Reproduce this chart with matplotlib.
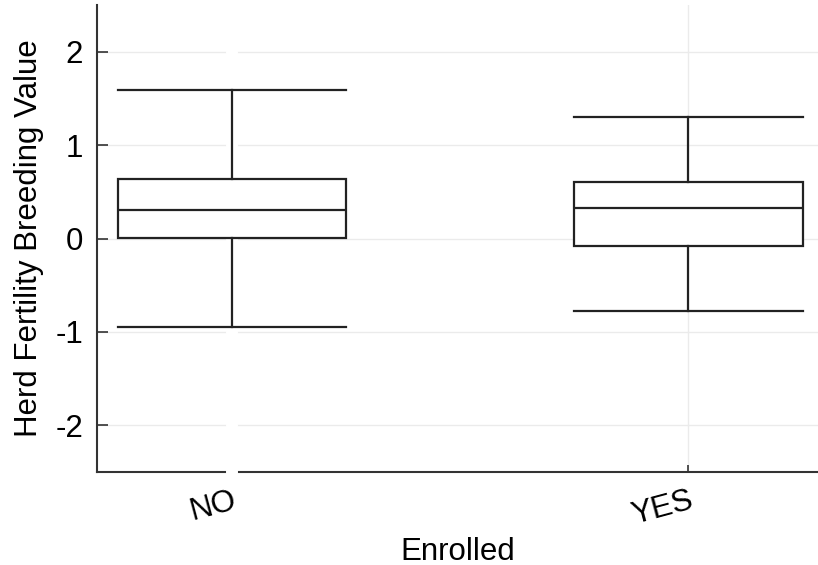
import matplotlib.pyplot as plt

# Summary statistics for each enrollment group
groups = ['NO', 'YES']
whisker_low = [-0.945, -0.771]
q1 = [0.004, -0.078]
medians = [0.300, 0.325]
q3 = [0.639, 0.610]
whisker_high = [1.585, 1.306]

y_ticks = [-2, -1, 0, 1, 2]
y_tick_labels = ['-2', '-1', '0', '1', '2']

plt.rcParams['font.family'] = ['Liberation Sans', 'DejaVu Sans']

fig = plt.figure(figsize=(8.18, 5.65), dpi=100)
ax = fig.add_axes([0.1186, 0.1646, 0.8814, 0.8265])

positions = [0.5, 1.5]
stats = []
for i, name in enumerate(groups):
    stats.append({
        'label': name,
        'whislo': whisker_low[i],
        'q1': q1[i],
        'med': medians[i],
        'q3': q3[i],
        'whishi': whisker_high[i],
        'fliers': [],
    })

line_kw = dict(color='#222222', linewidth=1.6)
ax.bxp(stats, positions=positions, widths=0.5, capwidths=0.5,
       showfliers=False, patch_artist=True,
       boxprops=dict(facecolor='white', edgecolor='#222222', linewidth=1.6),
       medianprops=line_kw, whiskerprops=line_kw, capprops=line_kw,
       zorder=3)

# white band over the grid and axis line at the first category
ax.axvline(positions[0], color='white', linewidth=8.6, zorder=2.6,
           clip_on=False, ymin=0, ymax=1)

ax.set_xlim(0.2043, 1.7837)
ax.set_ylim(-2.5, 2.5)
ax.set_yticks(y_ticks)
ax.set_yticklabels(y_tick_labels, fontsize=22.5)
ax.set_xticks(positions)
ax.set_xticklabels(groups, fontsize=22.5, rotation=15, ha='right',
                   rotation_mode='anchor')

ax.grid(True, color='#ebebeb', linewidth=1.0, zorder=0)
ax.set_axisbelow(True)

for side in ['top', 'right']:
    ax.spines[side].set_visible(False)
for side in ['left', 'bottom']:
    ax.spines[side].set_color('#333333')
    ax.spines[side].set_linewidth(1.5)

ax.tick_params(axis='y', direction='in', length=8, width=1.2, color='#333333', pad=10)
ax.tick_params(axis='x', direction='in', length=5, width=1.2, color='#333333', pad=10)

ax.set_xlabel('Enrolled', fontsize=22.5, labelpad=4)
ax.set_ylabel('Herd Fertility Breeding Value', fontsize=22.5, labelpad=8)

fig.savefig('out.png', dpi=100)
